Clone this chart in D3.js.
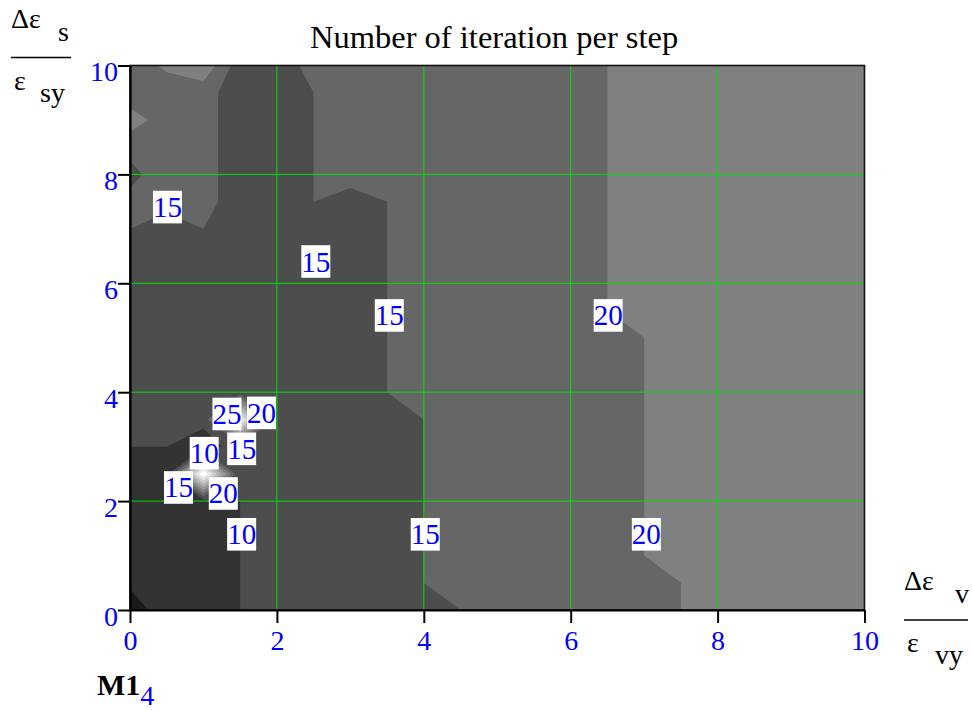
<!DOCTYPE html>
<html><head><meta charset="utf-8">
<script src="https://cdn.jsdelivr.net/npm/d3@7"></script>
<style>
body{margin:0;background:#fff;}
svg{display:block;font-family:"Liberation Serif","Times New Roman",serif;}
</style></head><body>
<svg id="chart" width="972" height="711"></svg>
<script>
// ---------------- data ----------------
const title = "Number of iteration per step";
// grid abscissae (Δεv/εvy) and ordinates (Δεs/εsy) of the iteration matrix
const xGrid = [0,0.5,1,1.5,2,2.5,3,3.5,4,4.5,5,5.5,6,6.5,7,7.5,8,8.5,9,9.5,10];
const yGrid = [0,0.5,1,1.5,2,2.5,3,3.5,4,4.5,5,5.5,6,6.5,7,7.5,8,8.5,9,9.5,10];
// number of iterations; row k corresponds to y = yGrid[k], column i to x = xGrid[i]
const iterations = [
  [ 2, 8, 8,10,12,12,12,12,12,15,17,17,17,17,17,20,22,22,22,22,22],
  [ 6, 8, 8,10,12,12,12,12,15,17,17,17,17,17,17,20,22,22,22,22,22],
  [ 8, 8, 8,10,12,12,12,12,15,17,17,17,17,17,20,22,22,22,22,22,22],
  [ 8, 8, 8,10,12,12,12,12,15,17,17,17,17,17,20,22,22,22,22,22,22],
  [ 8, 8, 8,10,12,12,12,12,15,17,17,17,17,17,20,22,22,22,22,22,22],
  [ 8, 8,50,10,12,12,12,12,15,17,17,17,17,17,20,22,22,22,22,22,22],
  [10,10, 8,12,12,12,12,12,15,17,17,17,17,17,20,22,22,22,22,22,22],
  [12,12,11,46,12,12,12,12,15,17,17,17,17,17,20,22,22,22,22,22,22],
  [12,12,12,12,12,15,12,15,15,17,17,17,17,17,20,22,22,22,22,22,22],
  [12,12,12,12,12,15,12,15,17,17,17,17,17,17,20,22,22,22,22,22,22],
  [12,12,12,12,12,15,12,15,17,17,17,17,17,17,20,22,22,22,22,22,22],
  [12,12,12,12,12,15,12,15,17,17,17,17,17,20,22,22,22,22,22,22,22],
  [12,12,12,12,12,15,12,15,17,17,17,17,17,20,22,22,22,22,22,22,22],
  [12,12,12,12,12,15,12,15,17,17,17,17,17,20,22,22,22,22,22,22,22],
  [15,12,15,12,12,15,12,15,17,17,17,17,17,20,22,22,22,22,22,22,22],
  [16,17,17,12,12,15,12,15,17,17,17,17,17,20,22,22,22,22,22,22,22],
  [14,17,17,12,12,15,18,17,17,17,17,17,17,20,22,22,22,22,22,22,22],
  [16,17,17,12,12,15,17,17,17,17,17,17,17,20,22,22,22,22,22,22,22],
  [23,17,17,12,12,15,17,17,17,17,17,17,17,20,22,22,22,22,22,22,22],
  [16,17,17,12,12,15,17,17,17,17,17,17,17,20,22,22,22,22,22,22,22],
  [17,21,24,12,12,17,17,17,17,17,17,17,17,20,22,22,22,22,22,22,22]
];
const levels = [5,10,15,20,25,30,35,40,45];
const xTicks = [0,2,4,6,8,10];
const yTicks = [0,2,4,6,8,10];
const gridX = [2,4,6,8];
const gridY = [2,4,6,8];
// contour labels (level, position in data units)
const labelLevels = [15,15,15,20,25,20,10,15,15,20,10,15,20];
const labelX = [0.51,2.53,3.53,6.51,1.32,1.79,1.01,1.52,0.66,1.27,1.52,4.02,7.03];
const labelY = [7.40,6.40,5.41,5.41,3.60,3.62,2.88,2.96,2.25,2.14,1.39,1.39,1.39];

// ---------------- styles / layout ----------------
const FONT = "Liberation Serif, Times New Roman, serif";
const plot = {left:130, right:864.5, top:65.5, bottom:610};
const grays = ["#1a1a1a","#333333","#4d4d4d","#666666","#808080","#999999","#b3b3b3","#cccccc","#e6e6e6","#ffffff"];
const blue = "#0000ff", green = "#00e000";

const svg = d3.select("#chart").attr("font-family", FONT);
const x = d3.scaleLinear().domain([0,10]).range([plot.left, plot.right]);
const y = d3.scaleLinear().domain([0,10]).range([plot.bottom, plot.top]);
const nx = xGrid.length, ny = yGrid.length;
// contour-space -> data-space (grid value k sits at k+0.5)
const gx = d3.scaleLinear().domain([0.5, nx-0.5]).range([xGrid[0], xGrid[nx-1]]);
const gy = d3.scaleLinear().domain([0.5, ny-0.5]).range([yGrid[0], yGrid[ny-1]]);
const flat = iterations.flat();
const fill = d3.scaleThreshold().domain(levels).range(grays);

svg.append("defs").append("clipPath").attr("id","clip")
  .append("rect").attr("x",plot.left).attr("y",plot.top)
  .attr("width",plot.right-plot.left).attr("height",plot.bottom-plot.top);

const gPlot = svg.append("g").attr("clip-path","url(#clip)");
gPlot.append("rect").attr("x",plot.left).attr("y",plot.top)
  .attr("width",plot.right-plot.left).attr("height",plot.bottom-plot.top)
  .attr("fill", fill(d3.min(flat)));

const contours = d3.contours().size([nx, ny]).thresholds(levels)(flat);
const proj = d3.geoTransform({point(px, py){ this.stream.point(x(gx(px)), y(gy(py))); }});
const path = d3.geoPath(proj);
gPlot.selectAll("path.band").data(contours).join("path")
  .attr("class","band").attr("d", path).attr("fill", d => fill(d.value));

// grid lines
gPlot.selectAll("line.gx").data(gridX).join("line").attr("class","gx")
  .attr("x1", d=>x(d)).attr("x2", d=>x(d)).attr("y1", plot.top).attr("y2", plot.bottom)
  .attr("stroke", green).attr("stroke-width",1);
gPlot.selectAll("line.gy").data(gridY).join("line").attr("class","gy")
  .attr("y1", d=>y(d)).attr("y2", d=>y(d)).attr("x1", plot.left).attr("x2", plot.right)
  .attr("stroke", green).attr("stroke-width",1);

// contour labels
const lab = svg.append("g").selectAll("g").data(labelLevels.map((v,i)=>({v, x:labelX[i], y:labelY[i]}))).join("g")
  .attr("transform", d => `translate(${x(d.x)},${y(d.y)})`);
lab.append("rect").attr("fill","#fff");
lab.append("text").text(d=>d.v).attr("text-anchor","middle").attr("y",10)
  .attr("font-size",29).attr("font-family",FONT).attr("fill",blue);
lab.each(function(){
  const g = d3.select(this);
  const w = g.select("text").node().getComputedTextLength();
  g.select("rect").attr("x",-w/2).attr("width",w).attr("y",-16.3).attr("height",32.6);
});

// frame
svg.append("rect").attr("x",plot.left).attr("y",plot.top)
  .attr("width",plot.right-plot.left).attr("height",plot.bottom-plot.top)
  .attr("fill","none").attr("stroke","#111").attr("stroke-width",1.6);

// axes
const ax = svg.append("g").attr("transform",`translate(0,${plot.bottom})`)
  .call(d3.axisBottom(x).tickValues(xTicks).tickSize(13).tickSizeOuter(0).tickFormat(d3.format("d")))
  .attr("font-family",FONT);
ax.select(".domain").attr("stroke","#000").attr("stroke-width",2.2);
ax.selectAll(".tick line").attr("stroke","#000").attr("stroke-width",2);
ax.selectAll(".tick text").attr("y",40).attr("dy",null).attr("fill",blue)
  .attr("font-size",28).attr("font-family",FONT);

const ay = svg.append("g").attr("transform",`translate(${plot.left},0)`)
  .call(d3.axisLeft(y).tickValues(yTicks).tickSize(12).tickSizeOuter(0).tickFormat(d3.format("d")))
  .attr("font-family",FONT);
ay.select(".domain").attr("stroke","#000").attr("stroke-width",2.2);
ay.selectAll(".tick line").attr("stroke","#000").attr("stroke-width",2);
ay.selectAll(".tick text").attr("x",-12).attr("dy",null).attr("y",15).attr("fill",blue)
  .attr("font-size",28).attr("font-family",FONT);

// title
svg.append("text").attr("x",310).attr("y",48).attr("font-size",32.5).attr("fill","#000").text(title);

// axis titles
function frac(g, topMain, topSub, botMain, botSub, o){
  g.append("text").attr("x",o.x0).attr("y",o.b1).attr("font-size",28).text(topMain);
  g.append("text").attr("x",o.xs1).attr("y",o.b1+12.5).attr("font-size",28).text(topSub);
  g.append("line").attr("x1",o.x0).attr("x2",o.x0+o.w).attr("y1",o.ly).attr("y2",o.ly)
    .attr("stroke","#000").attr("stroke-width",1.6);
  g.append("text").attr("x",o.x0+3).attr("y",o.b2).attr("font-size",28).text(botMain);
  g.append("text").attr("x",o.xs2).attr("y",o.b2+11.5).attr("font-size",28).text(botSub);
}
frac(svg.append("g"), "Δε", "s", "ε", "sy", {x0:11, b1:28, xs1:58, w:60, ly:57.5, b2:90, xs2:40});
frac(svg.append("g"), "Δε", "v", "ε", "vy", {x0:904, b1:590, xs1:955, w:64, ly:620, b2:652, xs2:935});

// matrix name
const mt = svg.append("text").attr("x",97).attr("y",695);
mt.append("tspan").attr("font-size",30).attr("font-weight","bold").attr("fill","#000").text("M1");
mt.append("tspan").attr("font-size",28).attr("fill",blue).attr("dy",10).text("4");
</script>
</body></html>
